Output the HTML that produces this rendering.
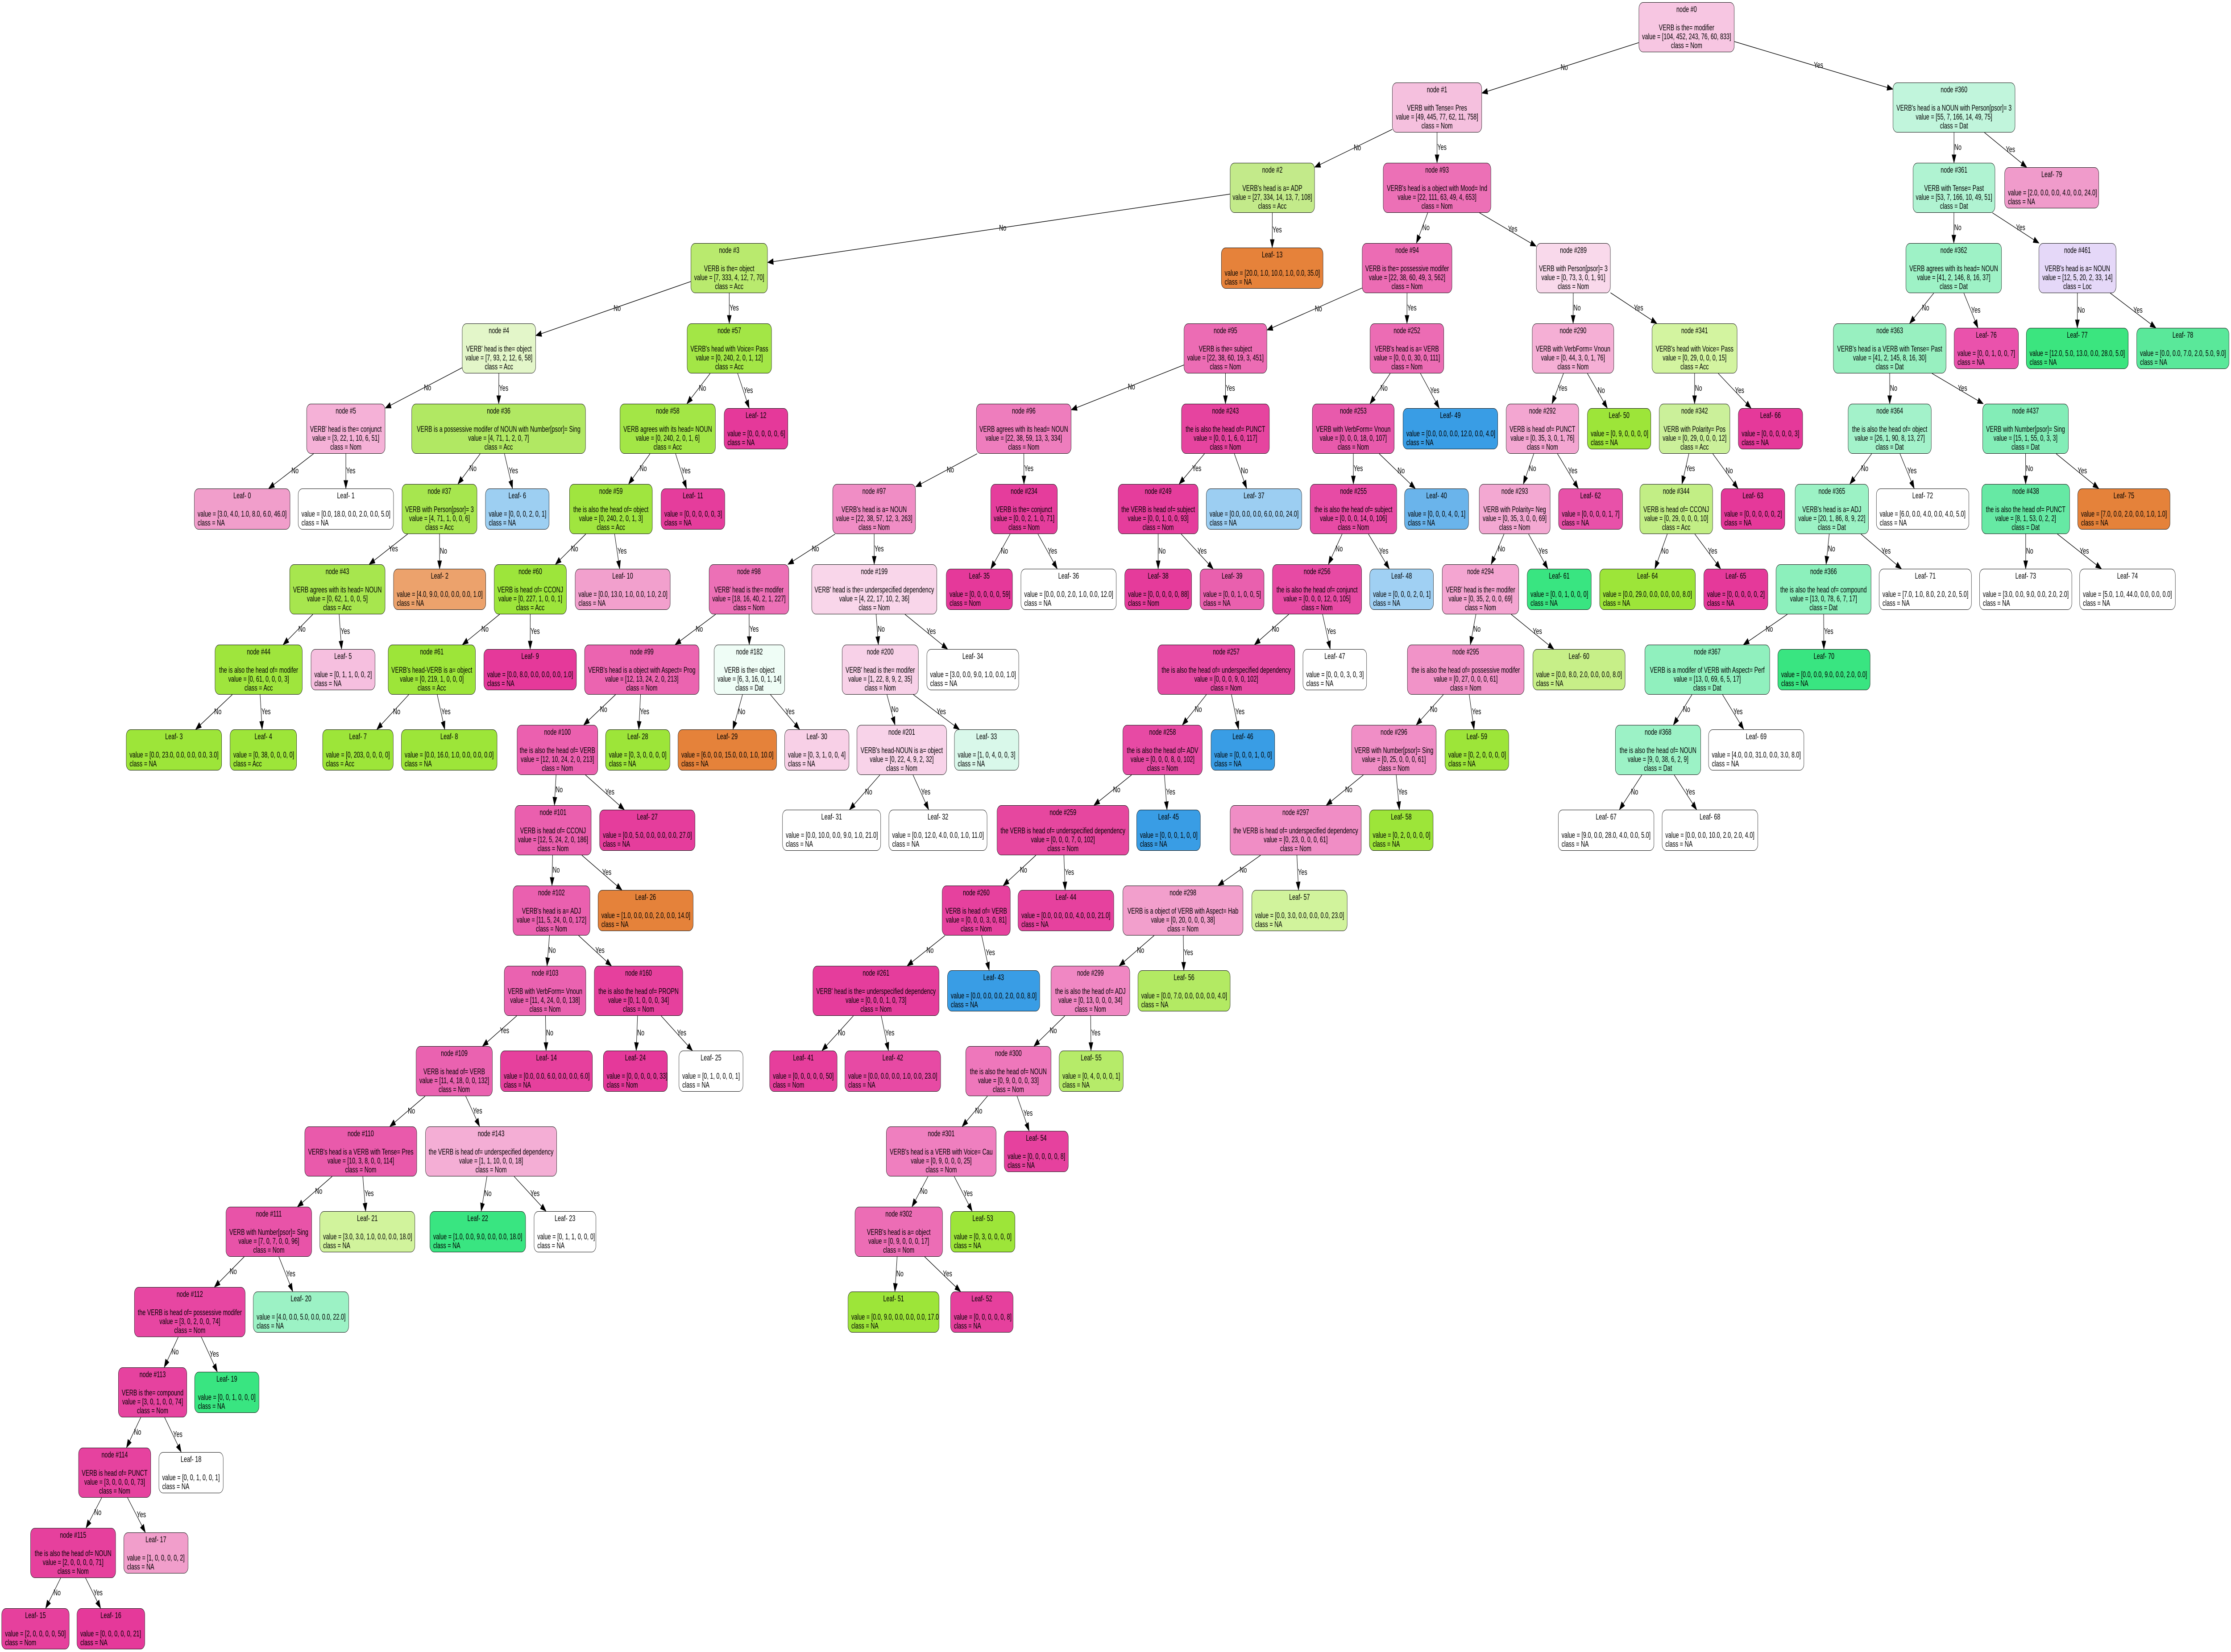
<!DOCTYPE html>
<html><head><meta charset="utf-8">
<style>
html,body{margin:0;padding:0;background:#fff;overflow:hidden;}
body{font-family:"Liberation Sans",sans-serif;}
#root{position:absolute;left:0;top:0;width:7112px;height:3703px;transform-origin:0 0;background:#fff;overflow:hidden;}
.n{position:absolute;box-sizing:border-box;border:1.5px solid #111;border-radius:14px;font-size:18px;line-height:20.3px;text-align:center;padding-top:5px;height:112px;white-space:nowrap;overflow:hidden;color:#000;}
.l{height:92px;margin-top:10px;}
.l .v{text-align:left;padding-left:10px;}
.r0{top:5px}.r1{top:185px}.r2{top:365px}.r3{top:545px}.r4{top:725px}.r5{top:905px}.r6{top:1085px}.r7{top:1265px}.r8{top:1445px}.r9{top:1625px}.r10{top:1805px}.r11{top:1985px}.r12{top:2165px}.r13{top:2345px}.r14{top:2525px}.r15{top:2705px}.r16{top:2885px}.r17{top:3065px}.r18{top:3245px}.r19{top:3425px}.r20{top:3595px}
.el{position:absolute;left:0;top:0;font-size:18px;line-height:20px;white-space:nowrap;color:#000;}
svg{position:absolute;left:0;top:0;}
</style></head><body>
<div id="root">
<svg id="sv" width="7112" height="3703"></svg>

<div class="n r0" id="n0" style="left:5224px;width:305px;background:#f7c6e2">node #0<br><br>VERB is the= modifier<br>value = [104, 452, 243, 76, 60, 833]<br>class = Nom</div>
<div class="n r1" id="n1" style="left:4438px;width:286px;background:#f5c0de">node #1<br><br>VERB with Tense= Pres<br>value = [49, 445, 77, 62, 11, 758]<br>class = Nom</div>
<div class="n r1" id="n360" style="left:6034px;width:390px;background:#c1f5dc">node #360<br><br>VERB's head is a NOUN with Person[psor]= 3<br>value = [55, 7, 166, 14, 49, 75]<br>class = Dat</div>
<div class="n r2" id="n2" style="left:3921px;width:270px;background:#c3ea8a">node #2<br><br>VERB's head is a= ADP<br>value = [27, 334, 14, 13, 7, 108]<br>class = Acc</div>
<div class="n r2" id="n93" style="left:4409px;width:344px;background:#ec70b6">node #93<br><br>VERB's head is a object with Mood= Ind<br>value = [22, 111, 63, 49, 4, 653]<br>class = Nom</div>
<div class="n r2" id="n361" style="left:6098px;width:262px;background:#b0f3d2">node #361<br><br>VERB with Tense= Past<br>value = [53, 7, 166, 10, 49, 51]<br>class = Dat</div>
<div class="n r3" id="n3" style="left:2202px;width:245px;background:#b9ea6e">node #3<br><br>VERB is the= object<br>value = [7, 333, 4, 12, 7, 70]<br>class = Acc</div>
<div class="n r3" id="n94" style="left:4342px;width:287px;background:#ec6cb4">node #94<br><br>VERB is the= possessive modifer<br>value = [22, 38, 60, 49, 3, 562]<br>class = Nom</div>
<div class="n r3" id="n289" style="left:4897px;width:237px;background:#f9d9eb">node #289<br><br>VERB with Person[psor]= 3<br>value = [0, 73, 3, 0, 1, 91]<br>class = Nom</div>
<div class="n r3" id="n362" style="left:6075px;width:306px;background:#9ef2c6">node #362<br><br>VERB agrees with its head= NOUN<br>value = [41, 2, 146, 8, 16, 37]<br>class = Dat</div>
<div class="n r3" id="n461" style="left:6499px;width:247px;background:#e5d8f8">node #461<br><br>VERB's head is a= NOUN<br>value = [12, 5, 20, 2, 33, 14]<br>class = Loc</div>
<div class="n r4" id="n4" style="left:1473px;width:235px;background:#e3f6c9">node #4<br><br>VERB' head is the= object<br>value = [7, 93, 2, 12, 6, 58]<br>class = Acc</div>
<div class="n r4" id="n57" style="left:2190px;width:270px;background:#a3e646">node #57<br><br>VERB's head with Voice= Pass<br>value = [0, 240, 2, 0, 1, 12]<br>class = Acc</div>
<div class="n r4" id="n95" style="left:3774px;width:265px;background:#ec6cb4">node #95<br><br>VERB is the= subject<br>value = [22, 38, 60, 19, 3, 451]<br>class = Nom</div>
<div class="n r4" id="n252" style="left:4367px;width:236px;background:#ec6cb4">node #252<br><br>VERB's head is a= VERB<br>value = [0, 0, 0, 30, 0, 111]<br>class = Nom</div>
<div class="n r4" id="n290" style="left:4884px;width:261px;background:#f5afd5">node #290<br><br>VERB with VerbForm= Vnoun<br>value = [0, 44, 3, 0, 1, 76]<br>class = Nom</div>
<div class="n r4" id="n341" style="left:5266px;width:272px;background:#d3f4a0">node #341<br><br>VERB's head with Voice= Pass<br>value = [0, 29, 0, 0, 0, 15]<br>class = Acc</div>
<div class="n r4" id="n363" style="left:5844px;width:360px;background:#98f0c0">node #363<br><br>VERB's head is a VERB with Tense= Past<br>value = [41, 2, 145, 8, 16, 30]<br>class = Dat</div>
<div class="n r5" id="n5" style="left:977px;width:251px;background:#f5b1d7">node #5<br><br>VERB' head is the= conjunct<br>value = [3, 22, 1, 10, 6, 51]<br>class = Nom</div>
<div class="n r5" id="n36" style="left:1312px;width:555px;background:#b1e863">node #36<br><br>VERB  is a possessive modifer  of NOUN with Number[psor]= Sing<br>value = [4, 71, 1, 2, 0, 7]<br>class = Acc</div>
<div class="n r5" id="n58" style="left:1976px;width:305px;background:#a3e646">node #58<br><br>VERB agrees with its head= NOUN<br>value = [0, 240, 2, 0, 1, 6]<br>class = Acc</div>
<div class="n r5" id="n96" style="left:3112px;width:303px;background:#ee7dbd">node #96<br><br>VERB agrees with its head= NOUN<br>value = [22, 38, 59, 13, 3, 334]<br>class = Nom</div>
<div class="n r5" id="n243" style="left:3766px;width:281px;background:#e6449f">node #243<br><br>the  is also the head of= PUNCT<br>value = [0, 0, 1, 6, 0, 117]<br>class = Nom</div>
<div class="n r5" id="n253" style="left:4183px;width:262px;background:#e85aac">node #253<br><br>VERB with VerbForm= Vnoun<br>value = [0, 0, 0, 18, 0, 107]<br>class = Nom</div>
<div class="n r5" id="n292" style="left:4801px;width:232px;background:#f3a6d1">node #292<br><br>VERB is head of= PUNCT<br>value = [0, 35, 3, 0, 1, 76]<br>class = Nom</div>
<div class="n r5" id="n342" style="left:5289px;width:226px;background:#cbf09a">node #342<br><br>VERB with Polarity= Pos<br>value = [0, 29, 0, 0, 0, 12]<br>class = Acc</div>
<div class="n r5" id="n364" style="left:5891px;width:266px;background:#a3f2ca">node #364<br><br>the  is also the head of= object<br>value = [26, 1, 90, 8, 13, 27]<br>class = Dat</div>
<div class="n r5" id="n437" style="left:6320px;width:274px;background:#83edb7">node #437<br><br>VERB with Number[psor]= Sing<br>value = [15, 1, 55, 0, 3, 3]<br>class = Dat</div>
<div class="n r6" id="n37" style="left:1281px;width:240px;background:#a7e64f">node #37<br><br>VERB with Person[psor]= 3<br>value = [4, 71, 1, 0, 0, 6]<br>class = Acc</div>
<div class="n r6" id="n59" style="left:1815px;width:265px;background:#a0e53f">node #59<br><br>the  is also the head of= object<br>value = [0, 240, 2, 0, 1, 3]<br>class = Acc</div>
<div class="n r6" id="n97" style="left:2654px;width:265px;background:#f08dc5">node #97<br><br>VERB's head is a= NOUN<br>value = [22, 38, 57, 12, 3, 263]<br>class = Nom</div>
<div class="n r6" id="n234" style="left:3158px;width:213px;background:#e53d9c">node #234<br><br>VERB is the= conjunct<br>value = [0, 0, 2, 1, 0, 71]<br>class = Nom</div>
<div class="n r6" id="n249" style="left:3564px;width:256px;background:#e53d9c">node #249<br><br>the VERB is head of= subject<br>value = [0, 0, 1, 0, 0, 93]<br>class = Nom</div>
<div class="n r6" id="n255" style="left:4176px;width:277px;background:#e74ba5">node #255<br><br>the  is also the head of= subject<br>value = [0, 0, 0, 14, 0, 106]<br>class = Nom</div>
<div class="n r6" id="n293" style="left:4715px;width:227px;background:#f3a8d2">node #293<br><br>VERB with Polarity= Neg<br>value = [0, 35, 3, 0, 0, 69]<br>class = Nom</div>
<div class="n r6" id="n344" style="left:5227px;width:233px;background:#c2ee85">node #344<br><br>VERB is head of= CCONJ<br>value = [0, 29, 0, 0, 0, 10]<br>class = Acc</div>
<div class="n r6" id="n365" style="left:5722px;width:235px;background:#9cf2c5">node #365<br><br>VERB's head is a= ADJ<br>value = [20, 1, 86, 8, 9, 22]<br>class = Dat</div>
<div class="n r6" id="n438" style="left:6317px;width:281px;background:#66e9a4">node #438<br><br>the  is also the head of= PUNCT<br>value = [8, 1, 53, 0, 2, 2]<br>class = Dat</div>
<div class="n r7" id="n43" style="left:923px;width:305px;background:#a7e64e">node #43<br><br>VERB agrees with its head= NOUN<br>value = [0, 62, 1, 0, 0, 5]<br>class = Acc</div>
<div class="n r7" id="n60" style="left:1575px;width:231px;background:#9de53b">node #60<br><br>VERB is head of= CCONJ<br>value = [0, 227, 1, 0, 0, 1]<br>class = Acc</div>
<div class="n r7" id="n98" style="left:2260px;width:255px;background:#ec70b6">node #98<br><br>VERB' head is the= modifer<br>value = [18, 16, 40, 2, 1, 227]<br>class = Nom</div>
<div class="n r7" id="n199" style="left:2587px;width:400px;background:#f9d6ea">node #199<br><br>VERB' head is the= underspecified dependency<br>value = [4, 22, 17, 10, 2, 36]<br>class = Nom</div>
<div class="n r7" id="n256" style="left:4056px;width:285px;background:#e74aa4">node #256<br><br>the  is also the head of= conjunct<br>value = [0, 0, 0, 12, 0, 105]<br>class = Nom</div>
<div class="n r7" id="n294" style="left:4597px;width:245px;background:#f4a5d1">node #294<br><br>VERB' head is the= modifer<br>value = [0, 35, 2, 0, 0, 69]<br>class = Nom</div>
<div class="n r7" id="n366" style="left:5661px;width:304px;background:#8cf0bc">node #366<br><br>the  is also the head of= compound<br>value = [13, 0, 78, 6, 7, 17]<br>class = Dat</div>
<div class="n r8" id="n44" style="left:685px;width:279px;background:#9fe53d">node #44<br><br>the  is also the head of= modifer<br>value = [0, 61, 0, 0, 0, 3]<br>class = Acc</div>
<div class="n r8" id="n61" style="left:1237px;width:279px;background:#9de539">node #61<br><br>VERB's head-VERB is a= object<br>value = [0, 219, 1, 0, 0, 0]<br>class = Acc</div>
<div class="n r8" id="n99" style="left:1863px;width:366px;background:#eb64b0">node #99<br><br>VERB's head is a object with Aspect= Prog<br>value = [12, 13, 24, 2, 0, 213]<br>class = Nom</div>
<div class="n r8" id="n182" style="left:2276px;width:226px;background:#effdf6">node #182<br><br>VERB is the= object<br>value = [6, 3, 16, 0, 1, 14]<br>class = Dat</div>
<div class="n r8" id="n200" style="left:2684px;width:244px;background:#f8d1e8">node #200<br><br>VERB' head is the= modifer<br>value = [1, 22, 8, 9, 2, 35]<br>class = Nom</div>
<div class="n r8" id="n257" style="left:3690px;width:438px;background:#e74ba5">node #257<br><br>the  is also the head of= underspecified dependency<br>value = [0, 0, 0, 9, 0, 102]<br>class = Nom</div>
<div class="n r8" id="n295" style="left:4486px;width:373px;background:#f193c8">node #295<br><br>the  is also the head of= possessive modifer<br>value = [0, 27, 0, 0, 0, 61]<br>class = Nom</div>
<div class="n r8" id="n367" style="left:5243px;width:399px;background:#90f0be">node #367<br><br>VERB  is a modifer  of VERB with Aspect= Perf<br>value = [13, 0, 69, 6, 5, 17]<br>class = Dat</div>
<div class="n r9" id="n100" style="left:1648px;width:258px;background:#eb60af">node #100<br><br>the  is also the head of= VERB<br>value = [12, 10, 24, 2, 0, 213]<br>class = Nom</div>
<div class="n r9" id="n201" style="left:2731px;width:287px;background:#f8d3e9">node #201<br><br>VERB's head-NOUN is a= object<br>value = [0, 22, 4, 9, 2, 32]<br>class = Nom</div>
<div class="n r9" id="n258" style="left:3579px;width:254px;background:#e74aa4">node #258<br><br>the  is also the head of= ADV<br>value = [0, 0, 0, 8, 0, 102]<br>class = Nom</div>
<div class="n r9" id="n296" style="left:4308px;width:271px;background:#f08ec6">node #296<br><br>VERB with Number[psor]= Sing<br>value = [0, 25, 0, 0, 0, 61]<br>class = Nom</div>
<div class="n r9" id="n368" style="left:5149px;width:273px;background:#9cf2c6">node #368<br><br>the  is also the head of= NOUN<br>value = [9, 0, 38, 6, 2, 9]<br>class = Dat</div>
<div class="n r10" id="n101" style="left:1641px;width:244px;background:#ea5fae">node #101<br><br>VERB is head of= CCONJ<br>value = [12, 5, 24, 2, 0, 186]<br>class = Nom</div>
<div class="n r10" id="n259" style="left:3178px;width:421px;background:#e6479f">node #259<br><br>the VERB is head of= underspecified dependency<br>value = [0, 0, 0, 7, 0, 102]<br>class = Nom</div>
<div class="n r10" id="n297" style="left:3921px;width:419px;background:#f08dc5">node #297<br><br>the VERB is head of= underspecified dependency<br>value = [0, 23, 0, 0, 0, 61]<br>class = Nom</div>
<div class="n r11" id="n102" style="left:1635px;width:246px;background:#ea60af">node #102<br><br>VERB's head is a= ADJ<br>value = [11, 5, 24, 0, 0, 172]<br>class = Nom</div>
<div class="n r11" id="n260" style="left:3003px;width:218px;background:#e6419e">node #260<br><br>VERB is head of= VERB<br>value = [0, 0, 0, 3, 0, 81]<br>class = Nom</div>
<div class="n r11" id="n298" style="left:3579px;width:384px;background:#f29fcc">node #298<br><br>VERB  is a object  of VERB with Aspect= Hab<br>value = [0, 20, 0, 0, 0, 38]<br>class = Nom</div>
<div class="n r12" id="n103" style="left:1607px;width:261px;background:#ea62b0">node #103<br><br>VERB with VerbForm= Vnoun<br>value = [11, 4, 24, 0, 0, 138]<br>class = Nom</div>
<div class="n r12" id="n160" style="left:1894px;width:283px;background:#e6409d">node #160<br><br>the  is also the head of= PROPN<br>value = [0, 1, 0, 0, 0, 34]<br>class = Nom</div>
<div class="n r12" id="n261" style="left:2591px;width:403px;background:#e53d9c">node #261<br><br>VERB' head is the= underspecified dependency<br>value = [0, 0, 0, 1, 0, 73]<br>class = Nom</div>
<div class="n r12" id="n299" style="left:3350px;width:252px;background:#f087c3">node #299<br><br>the  is also the head of= ADJ<br>value = [0, 13, 0, 0, 0, 34]<br>class = Nom</div>
<div class="n r13" id="n109" style="left:1326px;width:244px;background:#ea62b0">node #109<br><br>VERB is head of= VERB<br>value = [11, 4, 18, 0, 0, 132]<br>class = Nom</div>
<div class="n r13" id="n300" style="left:3078px;width:273px;background:#ee77bb">node #300<br><br>the  is also the head of= NOUN<br>value = [0, 9, 0, 0, 0, 33]<br>class = Nom</div>
<div class="n r14" id="n110" style="left:971px;width:358px;background:#e95aab">node #110<br><br>VERB's head is a VERB with Tense= Pres<br>value = [10, 3, 8, 0, 0, 114]<br>class = Nom</div>
<div class="n r14" id="n143" style="left:1356px;width:419px;background:#f4aed5">node #143<br><br>the VERB is head of= underspecified dependency<br>value = [1, 1, 10, 0, 0, 18]<br>class = Nom</div>
<div class="n r14" id="n301" style="left:2825px;width:351px;background:#ef7fbf">node #301<br><br>VERB's head is a VERB with Voice= Cau<br>value = [0, 9, 0, 0, 0, 25]<br>class = Nom</div>
<div class="n r15" id="n111" style="left:720px;width:274px;background:#e853a8">node #111<br><br>VERB with Number[psor]= Sing<br>value = [7, 0, 7, 0, 0, 96]<br>class = Nom</div>
<div class="n r15" id="n302" style="left:2725px;width:280px;background:#ec6db5">node #302<br><br>VERB's head is a= object<br>value = [0, 9, 0, 0, 0, 17]<br>class = Nom</div>
<div class="n r16" id="n112" style="left:428px;width:354px;background:#e746a2">node #112<br><br>the VERB is head of= possessive modifer<br>value = [3, 0, 2, 0, 0, 74]<br>class = Nom</div>
<div class="n r17" id="n113" style="left:377px;width:219px;background:#e6429f">node #113<br><br>VERB is the= compound<br>value = [3, 0, 1, 0, 0, 74]<br>class = Nom</div>
<div class="n r18" id="n114" style="left:250px;width:231px;background:#e6429f">node #114<br><br>VERB is head of= PUNCT<br>value = [3, 0, 0, 0, 0, 73]<br>class = Nom</div>
<div class="n r19" id="n115" style="left:97px;width:272px;background:#e6409d">node #115<br><br>the  is also the head of= NOUN<br>value = [2, 0, 0, 0, 0, 71]<br>class = Nom</div>

<div class="n l r2" id="l79" style="left:6390px;width:301px;background:#f09bcb">Leaf- 79<div class="v"><br>value = [2.0, 0.0, 0.0, 4.0, 0.0, 24.0]<br>class = NA</div></div>
<div class="n l r3" id="l13" style="left:3893px;width:325px;background:#e6823a">Leaf- 13<div class="v"><br>value = [20.0, 1.0, 10.0, 1.0, 0.0, 35.0]<br>class = NA</div></div>
<div class="n l r4" id="l76" style="left:6229px;width:206px;background:#ea52ac">Leaf- 76<div class="v"><br>value = [0, 0, 1, 0, 0, 7]<br>class = NA</div></div>
<div class="n l r4" id="l77" style="left:6459px;width:326px;background:#3be57f">Leaf- 77<div class="v"><br>value = [12.0, 5.0, 13.0, 0.0, 28.0, 5.0]<br>class = NA</div></div>
<div class="n l r4" id="l78" style="left:6811px;width:295px;background:#5ae89a">Leaf- 78<div class="v"><br>value = [0.0, 0.0, 7.0, 2.0, 5.0, 9.0]<br>class = NA</div></div>
<div class="n l r5" id="l12" style="left:2308px;width:204px;background:#e5399a">Leaf- 12<div class="v"><br>value = [0, 0, 0, 0, 0, 6]<br>class = NA</div></div>
<div class="n l r5" id="l49" style="left:4472px;width:303px;background:#399de5">Leaf- 49<div class="v"><br>value = [0.0, 0.0, 0.0, 12.0, 0.0, 4.0]<br>class = NA</div></div>
<div class="n l r5" id="l50" style="left:5060px;width:203px;background:#9de539">Leaf- 50<div class="v"><br>value = [0, 9, 0, 0, 0, 0]<br>class = NA</div></div>
<div class="n l r5" id="l66" style="left:5541px;width:206px;background:#e5399a">Leaf- 66<div class="v"><br>value = [0, 0, 0, 0, 0, 3]<br>class = NA</div></div>
<div class="n l r6" id="l0" style="left:619px;width:306px;background:#f19ecb">Leaf- 0<div class="v"><br>value = [3.0, 4.0, 1.0, 8.0, 6.0, 46.0]<br>class = NA</div></div>
<div class="n l r6" id="l1" style="left:950px;width:305px;background:#ffffff">Leaf- 1<div class="v"><br>value = [0.0, 18.0, 0.0, 2.0, 0.0, 5.0]<br>class = NA</div></div>
<div class="n l r6" id="l6" style="left:1547px;width:204px;background:#9dcff2">Leaf- 6<div class="v"><br>value = [0, 0, 0, 2, 0, 1]<br>class = NA</div></div>
<div class="n l r6" id="l11" style="left:2107px;width:204px;background:#e53d9c">Leaf- 11<div class="v"><br>value = [0, 0, 0, 0, 0, 3]<br>class = NA</div></div>
<div class="n l r6" id="l37" style="left:3845px;width:305px;background:#9ccef2">Leaf- 37<div class="v"><br>value = [0.0, 0.0, 0.0, 6.0, 0.0, 24.0]<br>class = NA</div></div>
<div class="n l r6" id="l40" style="left:4477px;width:205px;background:#6ab4eb">Leaf- 40<div class="v"><br>value = [0, 0, 0, 4, 0, 1]<br>class = NA</div></div>
<div class="n l r6" id="l62" style="left:4968px;width:205px;background:#e851a9">Leaf- 62<div class="v"><br>value = [0, 0, 0, 0, 1, 7]<br>class = NA</div></div>
<div class="n l r6" id="l63" style="left:5486px;width:204px;background:#e5399a">Leaf- 63<div class="v"><br>value = [0, 0, 0, 0, 0, 2]<br>class = NA</div></div>
<div class="n l r6" id="l72" style="left:5981px;width:296px;background:#ffffff">Leaf- 72<div class="v"><br>value = [6.0, 0.0, 4.0, 0.0, 4.0, 5.0]<br>class = NA</div></div>
<div class="n l r6" id="l75" style="left:6623px;width:295px;background:#e5823a">Leaf- 75<div class="v"><br>value = [7.0, 0.0, 2.0, 0.0, 1.0, 1.0]<br>class = NA</div></div>
<div class="n l r7" id="l2" style="left:1254px;width:295px;background:#eca26c">Leaf- 2<div class="v"><br>value = [4.0, 9.0, 0.0, 0.0, 0.0, 1.0]<br>class = NA</div></div>
<div class="n l r7" id="l10" style="left:1833px;width:304px;background:#f2a0cd">Leaf- 10<div class="v"><br>value = [0.0, 13.0, 1.0, 0.0, 1.0, 2.0]<br>class = NA</div></div>
<div class="n l r7" id="l35" style="left:3016px;width:212px;background:#e5399a">Leaf- 35<div class="v"><br>value = [0, 0, 0, 0, 0, 59]<br>class = Nom</div></div>
<div class="n l r7" id="l36" style="left:3254px;width:305px;background:#ffffff">Leaf- 36<div class="v"><br>value = [0.0, 0.0, 2.0, 1.0, 0.0, 12.0]<br>class = NA</div></div>
<div class="n l r7" id="l38" style="left:3585px;width:214px;background:#e53b9b">Leaf- 38<div class="v"><br>value = [0, 0, 0, 0, 0, 88]<br>class = Nom</div></div>
<div class="n l r7" id="l39" style="left:3825px;width:205px;background:#e960ae">Leaf- 39<div class="v"><br>value = [0, 0, 1, 0, 0, 5]<br>class = NA</div></div>
<div class="n l r7" id="l48" style="left:4366px;width:204px;background:#a0d0f3">Leaf- 48<div class="v"><br>value = [0, 0, 0, 2, 0, 1]<br>class = NA</div></div>
<div class="n l r7" id="l61" style="left:4868px;width:205px;background:#39e581">Leaf- 61<div class="v"><br>value = [0, 0, 1, 0, 0, 0]<br>class = NA</div></div>
<div class="n l r7" id="l64" style="left:5099px;width:306px;background:#9de539">Leaf- 64<div class="v"><br>value = [0.0, 29.0, 0.0, 0.0, 0.0, 8.0]<br>class = NA</div></div>
<div class="n l r7" id="l65" style="left:5431px;width:205px;background:#e5399a">Leaf- 65<div class="v"><br>value = [0, 0, 0, 0, 0, 2]<br>class = NA</div></div>
<div class="n l r7" id="l71" style="left:5990px;width:295px;background:#ffffff">Leaf- 71<div class="v"><br>value = [7.0, 1.0, 8.0, 2.0, 2.0, 5.0]<br>class = NA</div></div>
<div class="n l r7" id="l73" style="left:6310px;width:295px;background:#ffffff">Leaf- 73<div class="v"><br>value = [3.0, 0.0, 9.0, 0.0, 2.0, 2.0]<br>class = NA</div></div>
<div class="n l r7" id="l74" style="left:6629px;width:306px;background:#ffffff">Leaf- 74<div class="v"><br>value = [5.0, 1.0, 44.0, 0.0, 0.0, 0.0]<br>class = NA</div></div>
<div class="n l r8" id="l5" style="left:991px;width:205px;background:#f6bfdf">Leaf- 5<div class="v"><br>value = [0, 1, 1, 0, 0, 2]<br>class = NA</div></div>
<div class="n l r8" id="l9" style="left:1542px;width:296px;background:#e5399a">Leaf- 9<div class="v"><br>value = [0.0, 8.0, 0.0, 0.0, 0.0, 1.0]<br>class = NA</div></div>
<div class="n l r8" id="l34" style="left:2954px;width:294px;background:#ffffff">Leaf- 34<div class="v"><br>value = [3.0, 0.0, 9.0, 1.0, 0.0, 1.0]<br>class = NA</div></div>
<div class="n l r8" id="l47" style="left:4153px;width:204px;background:#ffffff">Leaf- 47<div class="v"><br>value = [0, 0, 0, 3, 0, 3]<br>class = NA</div></div>
<div class="n l r8" id="l60" style="left:4886px;width:295px;background:#c7ef88">Leaf- 60<div class="v"><br>value = [0.0, 8.0, 2.0, 0.0, 0.0, 8.0]<br>class = NA</div></div>
<div class="n l r8" id="l70" style="left:5667px;width:295px;background:#39e581">Leaf- 70<div class="v"><br>value = [0.0, 0.0, 9.0, 0.0, 2.0, 0.0]<br>class = NA</div></div>
<div class="n l r9" id="l3" style="left:402px;width:305px;background:#9de539">Leaf- 3<div class="v"><br>value = [0.0, 23.0, 0.0, 0.0, 0.0, 3.0]<br>class = NA</div></div>
<div class="n l r9" id="l4" style="left:733px;width:213px;background:#9de539">Leaf- 4<div class="v"><br>value = [0, 38, 0, 0, 0, 0]<br>class = Acc</div></div>
<div class="n l r9" id="l7" style="left:1028px;width:226px;background:#9de539">Leaf- 7<div class="v"><br>value = [0, 203, 0, 0, 0, 0]<br>class = Acc</div></div>
<div class="n l r9" id="l8" style="left:1279px;width:306px;background:#9de539">Leaf- 8<div class="v"><br>value = [0.0, 16.0, 1.0, 0.0, 0.0, 0.0]<br>class = NA</div></div>
<div class="n l r9" id="l28" style="left:1930px;width:206px;background:#9de539">Leaf- 28<div class="v"><br>value = [0, 3, 0, 0, 0, 0]<br>class = NA</div></div>
<div class="n l r9" id="l29" style="left:2161px;width:315px;background:#e5823a">Leaf- 29<div class="v"><br>value = [6.0, 0.0, 15.0, 0.0, 1.0, 10.0]<br>class = NA</div></div>
<div class="n l r9" id="l30" style="left:2501px;width:206px;background:#f8d0e7">Leaf- 30<div class="v"><br>value = [0, 3, 1, 0, 0, 4]<br>class = NA</div></div>
<div class="n l r9" id="l33" style="left:3042px;width:206px;background:#d9f8ea">Leaf- 33<div class="v"><br>value = [1, 0, 4, 0, 0, 3]<br>class = NA</div></div>
<div class="n l r9" id="l46" style="left:3860px;width:204px;background:#399de5">Leaf- 46<div class="v"><br>value = [0, 0, 0, 1, 0, 0]<br>class = NA</div></div>
<div class="n l r9" id="l59" style="left:4606px;width:204px;background:#9de539">Leaf- 59<div class="v"><br>value = [0, 2, 0, 0, 0, 0]<br>class = NA</div></div>
<div class="n l r9" id="l69" style="left:5446px;width:305px;background:#ffffff">Leaf- 69<div class="v"><br>value = [4.0, 0.0, 31.0, 0.0, 3.0, 8.0]<br>class = NA</div></div>
<div class="n l r10" id="l27" style="left:1911px;width:305px;background:#e53d9c">Leaf- 27<div class="v"><br>value = [0.0, 5.0, 0.0, 0.0, 0.0, 27.0]<br>class = NA</div></div>
<div class="n l r10" id="l31" style="left:2494px;width:314px;background:#ffffff">Leaf- 31<div class="v"><br>value = [0.0, 10.0, 0.0, 9.0, 1.0, 21.0]<br>class = NA</div></div>
<div class="n l r10" id="l32" style="left:2833px;width:314px;background:#ffffff">Leaf- 32<div class="v"><br>value = [0.0, 12.0, 4.0, 0.0, 1.0, 11.0]<br>class = NA</div></div>
<div class="n l r10" id="l45" style="left:3623px;width:204px;background:#399de5">Leaf- 45<div class="v"><br>value = [0, 0, 0, 1, 0, 0]<br>class = NA</div></div>
<div class="n l r10" id="l58" style="left:4365px;width:204px;background:#9de539">Leaf- 58<div class="v"><br>value = [0, 2, 0, 0, 0, 0]<br>class = NA</div></div>
<div class="n l r10" id="l67" style="left:4967px;width:306px;background:#ffffff">Leaf- 67<div class="v"><br>value = [9.0, 0.0, 28.0, 4.0, 0.0, 5.0]<br>class = NA</div></div>
<div class="n l r10" id="l68" style="left:5298px;width:306px;background:#ffffff">Leaf- 68<div class="v"><br>value = [0.0, 0.0, 10.0, 2.0, 2.0, 4.0]<br>class = NA</div></div>
<div class="n l r11" id="l26" style="left:1906px;width:304px;background:#e5823a">Leaf- 26<div class="v"><br>value = [1.0, 0.0, 0.0, 2.0, 0.0, 14.0]<br>class = NA</div></div>
<div class="n l r11" id="l44" style="left:3245px;width:306px;background:#e6419e">Leaf- 44<div class="v"><br>value = [0.0, 0.0, 0.0, 4.0, 0.0, 21.0]<br>class = NA</div></div>
<div class="n l r11" id="l57" style="left:3990px;width:305px;background:#d1f39c">Leaf- 57<div class="v"><br>value = [0.0, 3.0, 0.0, 0.0, 0.0, 23.0]<br>class = NA</div></div>
<div class="n l r12" id="l43" style="left:3020px;width:295px;background:#399de5">Leaf- 43<div class="v"><br>value = [0.0, 0.0, 0.0, 2.0, 0.0, 8.0]<br>class = NA</div></div>
<div class="n l r12" id="l56" style="left:3627px;width:295px;background:#b3ea63">Leaf- 56<div class="v"><br>value = [0.0, 7.0, 0.0, 0.0, 0.0, 4.0]<br>class = NA</div></div>
<div class="n l r13" id="l14" style="left:1595px;width:294px;background:#e6409d">Leaf- 14<div class="v"><br>value = [0.0, 0.0, 6.0, 0.0, 0.0, 6.0]<br>class = NA</div></div>
<div class="n l r13" id="l24" style="left:1923px;width:205px;background:#e5399a">Leaf- 24<div class="v"><br>value = [0, 0, 0, 0, 0, 33]<br>class = Nom</div></div>
<div class="n l r13" id="l25" style="left:2164px;width:205px;background:#ffffff">Leaf- 25<div class="v"><br>value = [0, 1, 0, 0, 0, 1]<br>class = NA</div></div>
<div class="n l r13" id="l41" style="left:2453px;width:216px;background:#e63e9c">Leaf- 41<div class="v"><br>value = [0, 0, 0, 0, 0, 50]<br>class = Nom</div></div>
<div class="n l r13" id="l42" style="left:2693px;width:306px;background:#e74aa4">Leaf- 42<div class="v"><br>value = [0.0, 0.0, 0.0, 1.0, 0.0, 23.0]<br>class = NA</div></div>
<div class="n l r13" id="l55" style="left:3376px;width:205px;background:#b6eb69">Leaf- 55<div class="v"><br>value = [0, 4, 0, 0, 0, 1]<br>class = NA</div></div>
<div class="n l r14" id="l54" style="left:3201px;width:205px;background:#e6419e">Leaf- 54<div class="v"><br>value = [0, 0, 0, 0, 0, 8]<br>class = NA</div></div>
<div class="n l r15" id="l21" style="left:1019px;width:304px;background:#d1f39c">Leaf- 21<div class="v"><br>value = [3.0, 3.0, 1.0, 0.0, 0.0, 18.0]<br>class = NA</div></div>
<div class="n l r15" id="l22" style="left:1370px;width:306px;background:#39e581">Leaf- 22<div class="v"><br>value = [1.0, 0.0, 9.0, 0.0, 0.0, 18.0]<br>class = NA</div></div>
<div class="n l r15" id="l23" style="left:1702px;width:198px;background:#ffffff">Leaf- 23<div class="v"><br>value = [0, 1, 1, 0, 0, 0]<br>class = NA</div></div>
<div class="n l r15" id="l53" style="left:3030px;width:206px;background:#9de539">Leaf- 53<div class="v"><br>value = [0, 3, 0, 0, 0, 0]<br>class = NA</div></div>
<div class="n l r16" id="l20" style="left:807px;width:305px;background:#9cf2c5">Leaf- 20<div class="v"><br>value = [4.0, 0.0, 5.0, 0.0, 0.0, 22.0]<br>class = NA</div></div>
<div class="n l r16" id="l51" style="left:2703px;width:291px;background:#9de539">Leaf- 51<div class="v"><br>value = [0.0, 9.0, 0.0, 0.0, 0.0, 17.0]<br>class = NA</div></div>
<div class="n l r16" id="l52" style="left:3030px;width:200px;background:#e6409d">Leaf- 52<div class="v"><br>value = [0, 0, 0, 0, 0, 8]<br>class = NA</div></div>
<div class="n l r17" id="l19" style="left:620px;width:206px;background:#39e581">Leaf- 19<div class="v"><br>value = [0, 0, 1, 0, 0, 0]<br>class = NA</div></div>
<div class="n l r18" id="l18" style="left:506px;width:206px;background:#ffffff">Leaf- 18<div class="v"><br>value = [0, 0, 1, 0, 0, 1]<br>class = NA</div></div>
<div class="n l r19" id="l17" style="left:394px;width:206px;background:#f19ecb">Leaf- 17<div class="v"><br>value = [1, 0, 0, 0, 0, 2]<br>class = NA</div></div>
<div class="n l r20" id="l15" style="left:5px;width:216px;background:#e6409d">Leaf- 15<div class="v"><br>value = [2, 0, 0, 0, 0, 50]<br>class = Nom</div></div>
<div class="n l r20" id="l16" style="left:245px;width:217px;background:#e5399a">Leaf- 16<div class="v"><br>value = [0, 0, 0, 0, 0, 21]<br>class = NA</div></div>

<span class="el" data-p="n0" data-c="n1">No</span><span class="el" data-p="n0" data-c="n360">Yes</span>
<span class="el" data-p="n1" data-c="n2">No</span><span class="el" data-p="n1" data-c="n93">Yes</span>
<span class="el" data-p="n360" data-c="n361">No</span><span class="el" data-p="n360" data-c="l79">Yes</span>
<span class="el" data-p="n2" data-c="n3">No</span><span class="el" data-p="n2" data-c="l13">Yes</span>
<span class="el" data-p="n93" data-c="n94">No</span><span class="el" data-p="n93" data-c="n289">Yes</span>
<span class="el" data-p="n361" data-c="n362">No</span><span class="el" data-p="n361" data-c="n461">Yes</span>
<span class="el" data-p="n3" data-c="n4">No</span><span class="el" data-p="n3" data-c="n57">Yes</span>
<span class="el" data-p="n94" data-c="n95">No</span><span class="el" data-p="n94" data-c="n252">Yes</span>
<span class="el" data-p="n289" data-c="n290">No</span><span class="el" data-p="n289" data-c="n341">Yes</span>
<span class="el" data-p="n362" data-c="n363">No</span><span class="el" data-p="n362" data-c="l76">Yes</span>
<span class="el" data-p="n461" data-c="l77">No</span><span class="el" data-p="n461" data-c="l78">Yes</span>
<span class="el" data-p="n4" data-c="n5">No</span><span class="el" data-p="n4" data-c="n36">Yes</span>
<span class="el" data-p="n57" data-c="n58">No</span><span class="el" data-p="n57" data-c="l12">Yes</span>
<span class="el" data-p="n95" data-c="n96">No</span><span class="el" data-p="n95" data-c="n243">Yes</span>
<span class="el" data-p="n252" data-c="n253">No</span><span class="el" data-p="n252" data-c="l49">Yes</span>
<span class="el" data-p="n290" data-c="n292">Yes</span><span class="el" data-p="n290" data-c="l50">No</span>
<span class="el" data-p="n341" data-c="n342">No</span><span class="el" data-p="n341" data-c="l66">Yes</span>
<span class="el" data-p="n363" data-c="n364">No</span><span class="el" data-p="n363" data-c="n437">Yes</span>
<span class="el" data-p="n5" data-c="l0">No</span><span class="el" data-p="n5" data-c="l1">Yes</span>
<span class="el" data-p="n36" data-c="n37">No</span><span class="el" data-p="n36" data-c="l6">Yes</span>
<span class="el" data-p="n58" data-c="n59">No</span><span class="el" data-p="n58" data-c="l11">Yes</span>
<span class="el" data-p="n96" data-c="n97">No</span><span class="el" data-p="n96" data-c="n234">Yes</span>
<span class="el" data-p="n243" data-c="n249">Yes</span><span class="el" data-p="n243" data-c="l37">No</span>
<span class="el" data-p="n253" data-c="n255">Yes</span><span class="el" data-p="n253" data-c="l40">No</span>
<span class="el" data-p="n292" data-c="n293">No</span><span class="el" data-p="n292" data-c="l62">Yes</span>
<span class="el" data-p="n342" data-c="n344">Yes</span><span class="el" data-p="n342" data-c="l63">No</span>
<span class="el" data-p="n364" data-c="n365">No</span><span class="el" data-p="n364" data-c="l72">Yes</span>
<span class="el" data-p="n437" data-c="n438">No</span><span class="el" data-p="n437" data-c="l75">Yes</span>
<span class="el" data-p="n37" data-c="n43">Yes</span><span class="el" data-p="n37" data-c="l2">No</span>
<span class="el" data-p="n59" data-c="n60">No</span><span class="el" data-p="n59" data-c="l10">Yes</span>
<span class="el" data-p="n97" data-c="n98">No</span><span class="el" data-p="n97" data-c="n199">Yes</span>
<span class="el" data-p="n234" data-c="l35">No</span><span class="el" data-p="n234" data-c="l36">Yes</span>
<span class="el" data-p="n249" data-c="l38">No</span><span class="el" data-p="n249" data-c="l39">Yes</span>
<span class="el" data-p="n255" data-c="n256">No</span><span class="el" data-p="n255" data-c="l48">Yes</span>
<span class="el" data-p="n293" data-c="n294">No</span><span class="el" data-p="n293" data-c="l61">Yes</span>
<span class="el" data-p="n344" data-c="l64">No</span><span class="el" data-p="n344" data-c="l65">Yes</span>
<span class="el" data-p="n365" data-c="n366">No</span><span class="el" data-p="n365" data-c="l71">Yes</span>
<span class="el" data-p="n438" data-c="l73">No</span><span class="el" data-p="n438" data-c="l74">Yes</span>
<span class="el" data-p="n43" data-c="n44">No</span><span class="el" data-p="n43" data-c="l5">Yes</span>
<span class="el" data-p="n60" data-c="n61">No</span><span class="el" data-p="n60" data-c="l9">Yes</span>
<span class="el" data-p="n98" data-c="n99">No</span><span class="el" data-p="n98" data-c="n182">Yes</span>
<span class="el" data-p="n199" data-c="n200">No</span><span class="el" data-p="n199" data-c="l34">Yes</span>
<span class="el" data-p="n256" data-c="n257">No</span><span class="el" data-p="n256" data-c="l47">Yes</span>
<span class="el" data-p="n294" data-c="n295">No</span><span class="el" data-p="n294" data-c="l60">Yes</span>
<span class="el" data-p="n366" data-c="n367">No</span><span class="el" data-p="n366" data-c="l70">Yes</span>
<span class="el" data-p="n44" data-c="l3">No</span><span class="el" data-p="n44" data-c="l4">Yes</span>
<span class="el" data-p="n61" data-c="l7">No</span><span class="el" data-p="n61" data-c="l8">Yes</span>
<span class="el" data-p="n99" data-c="n100">No</span><span class="el" data-p="n99" data-c="l28">Yes</span>
<span class="el" data-p="n182" data-c="l29">No</span><span class="el" data-p="n182" data-c="l30">Yes</span>
<span class="el" data-p="n200" data-c="n201">No</span><span class="el" data-p="n200" data-c="l33">Yes</span>
<span class="el" data-p="n257" data-c="n258">No</span><span class="el" data-p="n257" data-c="l46">Yes</span>
<span class="el" data-p="n295" data-c="n296">No</span><span class="el" data-p="n295" data-c="l59">Yes</span>
<span class="el" data-p="n367" data-c="n368">No</span><span class="el" data-p="n367" data-c="l69">Yes</span>
<span class="el" data-p="n100" data-c="n101">No</span><span class="el" data-p="n100" data-c="l27">Yes</span>
<span class="el" data-p="n201" data-c="l31">No</span><span class="el" data-p="n201" data-c="l32">Yes</span>
<span class="el" data-p="n258" data-c="n259">No</span><span class="el" data-p="n258" data-c="l45">Yes</span>
<span class="el" data-p="n296" data-c="n297">No</span><span class="el" data-p="n296" data-c="l58">Yes</span>
<span class="el" data-p="n368" data-c="l67">No</span><span class="el" data-p="n368" data-c="l68">Yes</span>
<span class="el" data-p="n101" data-c="n102">No</span><span class="el" data-p="n101" data-c="l26">Yes</span>
<span class="el" data-p="n259" data-c="n260">No</span><span class="el" data-p="n259" data-c="l44">Yes</span>
<span class="el" data-p="n297" data-c="n298">No</span><span class="el" data-p="n297" data-c="l57">Yes</span>
<span class="el" data-p="n102" data-c="n103">No</span><span class="el" data-p="n102" data-c="n160">Yes</span>
<span class="el" data-p="n260" data-c="n261">No</span><span class="el" data-p="n260" data-c="l43">Yes</span>
<span class="el" data-p="n298" data-c="n299">No</span><span class="el" data-p="n298" data-c="l56">Yes</span>
<span class="el" data-p="n103" data-c="n109">Yes</span><span class="el" data-p="n103" data-c="l14">No</span>
<span class="el" data-p="n160" data-c="l24">No</span><span class="el" data-p="n160" data-c="l25">Yes</span>
<span class="el" data-p="n261" data-c="l41">No</span><span class="el" data-p="n261" data-c="l42">Yes</span>
<span class="el" data-p="n299" data-c="n300">No</span><span class="el" data-p="n299" data-c="l55">Yes</span>
<span class="el" data-p="n109" data-c="n110">No</span><span class="el" data-p="n109" data-c="n143">Yes</span>
<span class="el" data-p="n300" data-c="n301">No</span><span class="el" data-p="n300" data-c="l54">Yes</span>
<span class="el" data-p="n110" data-c="n111">No</span><span class="el" data-p="n110" data-c="l21">Yes</span>
<span class="el" data-p="n143" data-c="l22">No</span><span class="el" data-p="n143" data-c="l23">Yes</span>
<span class="el" data-p="n301" data-c="n302">No</span><span class="el" data-p="n301" data-c="l53">Yes</span>
<span class="el" data-p="n111" data-c="n112">No</span><span class="el" data-p="n111" data-c="l20">Yes</span>
<span class="el" data-p="n302" data-c="l51">No</span><span class="el" data-p="n302" data-c="l52">Yes</span>
<span class="el" data-p="n112" data-c="n113">No</span><span class="el" data-p="n112" data-c="l19">Yes</span>
<span class="el" data-p="n113" data-c="n114">No</span><span class="el" data-p="n113" data-c="l18">Yes</span>
<span class="el" data-p="n114" data-c="n115">No</span><span class="el" data-p="n114" data-c="l17">Yes</span>
<span class="el" data-p="n115" data-c="l15">No</span><span class="el" data-p="n115" data-c="l16">Yes</span>
</div>

<script>
(function(){
  var NS="http://www.w3.org/2000/svg", sv=document.getElementById("sv");
  function box(el){var x=el.offsetLeft,y=el.offsetTop,w=el.offsetWidth,h=el.offsetHeight;return {cx:x+w/2,cy:y+h/2,hw:w/2,hh:h/2};}
  function clip(b,dx,dy){var t=Infinity;if(dx!==0)t=Math.min(t,b.hw/Math.abs(dx));if(dy!==0)t=Math.min(t,b.hh/Math.abs(dy));return [b.cx+dx*t,b.cy+dy*t];}
  var els=document.querySelectorAll(".el");
  for(var i=0;i<els.length;i++){
    var s=els[i],p=document.getElementById(s.getAttribute("data-p")),c=document.getElementById(s.getAttribute("data-c"));
    if(!p||!c)continue;
    var a=box(p),b=box(c),dx=b.cx-a.cx,dy=b.cy-a.cy;
    var S=clip(a,dx,dy),E=clip(b,-dx,-dy);
    var L=Math.hypot(E[0]-S[0],E[1]-S[1]),ux=(E[0]-S[0])/L,uy=(E[1]-S[1])/L;
    var al=18,aw=6.5,bx=E[0]-ux*al,by=E[1]-uy*al;
    var ln=document.createElementNS(NS,"line");
    ln.setAttribute("x1",S[0]);ln.setAttribute("y1",S[1]);ln.setAttribute("x2",bx);ln.setAttribute("y2",by);
    ln.setAttribute("stroke","#000");ln.setAttribute("stroke-width","1.4");sv.appendChild(ln);
    var pg=document.createElementNS(NS,"polygon");
    pg.setAttribute("points",E[0]+","+E[1]+" "+(bx-uy*aw)+","+(by+ux*aw)+" "+(bx+uy*aw)+","+(by-ux*aw));
    pg.setAttribute("fill","#000");pg.setAttribute("stroke","#000");sv.appendChild(pg);
    var mx=(S[0]+E[0])/2,my=(S[1]+E[1])/2;
    s.style.left=(mx+1)+"px";s.style.top=(my-11)+"px";
  }
  function fit(){
    var W=window.innerWidth||document.documentElement.clientWidth||7112;
    var H=window.innerHeight||document.documentElement.clientHeight||3703;
    var sx=W/7112, sy=H/3703;
    if(Math.abs(sx-1)<0.002)sx=1; if(Math.abs(sy-1)<0.002)sy=1;
    document.getElementById("root").style.transform="scale("+sx+","+sy+")";
    document.body.style.width=W+"px";document.body.style.height=H+"px";
  }
  fit();
  window.addEventListener("resize",fit);
})();
</script>
</body></html>
